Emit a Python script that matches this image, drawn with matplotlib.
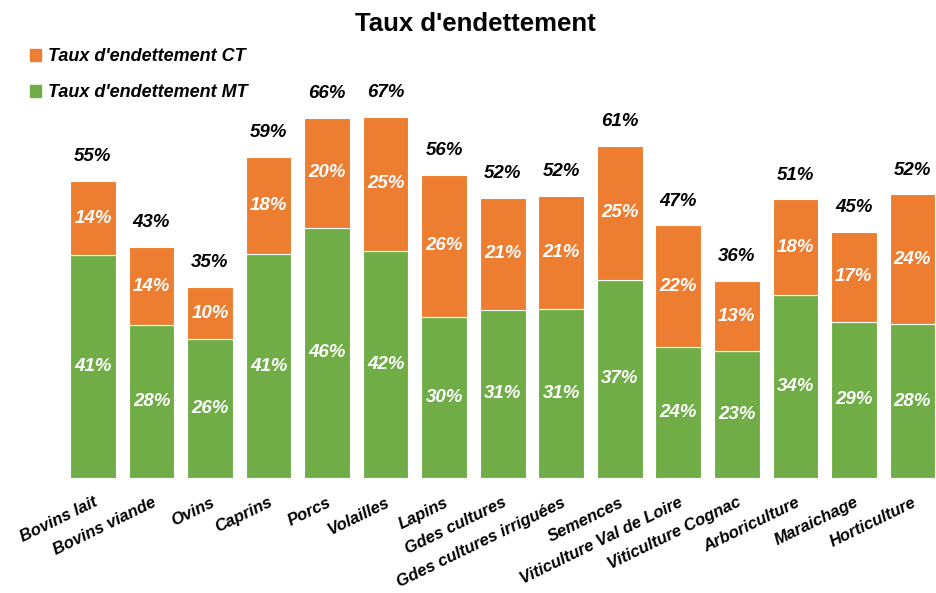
import matplotlib.pyplot as plt
from matplotlib.patches import Patch

plt.rcParams['font.family'] = ['Liberation Sans', 'DejaVu Sans']

categories = ["Bovins lait", "Bovins viande", "Ovins", "Caprins", "Porcs", "Volailles",
              "Lapins", "Gdes cultures", "Gdes cultures irriguées", "Semences",
              "Viticulture Val de Loire", "Viticulture Cognac", "Arboriculture",
              "Maraichage", "Horticulture"]
# taux d'endettement moyen terme / court terme (%)
mt = [41.1, 28.2, 25.6, 41.3, 46.2, 41.9, 29.7, 31.0, 31.2, 36.6, 24.2, 23.4, 33.8, 28.8, 28.4]
ct = [13.7, 14.4, 9.6, 17.9, 20.2, 24.7, 26.2, 20.7, 20.9, 24.7, 22.4, 12.9, 17.6, 16.6, 23.9]

green = "#70AD47"
orange = "#ED7D31"

fig = plt.figure(figsize=(9.36, 5.93), dpi=100)
ax = fig.add_axes([0.0618, 0.1939, 0.938, 0.640])

x = range(len(categories))
totals = [a + b for a, b in zip(mt, ct)]
ax.bar(x, mt, width=0.78, color=green, edgecolor="white", linewidth=0.8)
ax.bar(x, ct, bottom=mt, width=0.78, color=orange, edgecolor="white", linewidth=0.8)

lab = dict(fontsize=13.5, fontweight="bold", fontstyle="italic", ha="center", va="center")
for i in x:
    ax.text(i, mt[i] / 2, f"{mt[i]:.0f}%", color="white", **lab)
    ax.text(i, mt[i] + ct[i] / 2, f"{ct[i]:.0f}%", color="white", **lab)
    ax.annotate(f"{totals[i]:.0f}%", (i, totals[i]), xytext=(0, 17.5),
                textcoords="offset points", color="black", annotation_clip=False, **lab)

ax.set_xlim(-0.6, 14.4)
ax.set_ylim(0, 70)
ax.set_xticks(list(x))
ax.set_xticklabels(categories, rotation=26, ha="right", rotation_mode="anchor",
                   fontsize=12, fontweight="bold", fontstyle="italic")
ax.tick_params(axis="x", length=0, pad=12)
ax.set_yticks([])
for s in ax.spines.values():
    s.set_visible(False)

fig.text(0.508, 0.96, "Taux d'endettement", ha="center", va="center",
         fontsize=18.5, fontweight="bold")

handles = [Patch(color=orange, label="Taux d'endettement CT"),
           Patch(color=green, label="Taux d'endettement MT")]
fig.legend(handles=handles, loc="upper left", bbox_to_anchor=(0.0145, 0.946),
           frameon=False, handlelength=0.6, handleheight=0.6, handletextpad=0.4,
           labelspacing=1.05, prop=dict(size=13, weight="bold", style="italic"))

fig.savefig("out.png", dpi=100)
